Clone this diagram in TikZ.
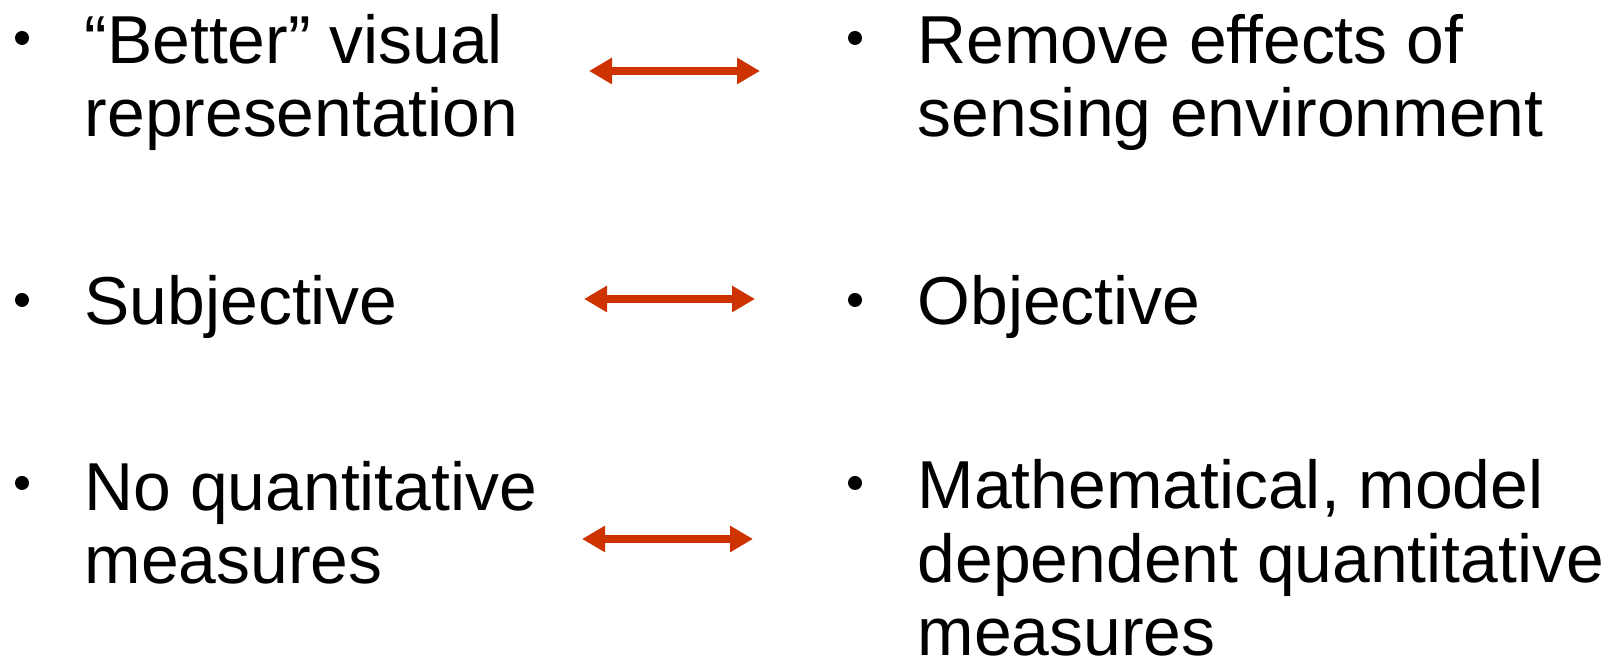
\documentclass[tikz,border=0pt]{standalone}
\usepackage{fontspec}
\setmainfont{Liberation Sans}
\definecolor{ArrowRed}{HTML}{CC3300}
\usepackage{tikz}
\usetikzlibrary{arrows.meta, positioning}

\begin{document}
\begin{tikzpicture}[>={Triangle[length=0.23cm, width=0.25cm]},
  item/.style={anchor=base west, inner sep=0pt, align=left,
    font=\fontsize{19.3}{21}\selectfont},
  dot/.style={circle, fill=black, inner sep=0pt, minimum size=0.14cm},
  link/.style={<->, line width=0.08cm, ArrowRed}]
  \useasboundingbox (0,0) rectangle (16.15,6.65);
  % left column (base = baseline of the last line)
  \node[dot] (bl1) at (0.22, 6.27) {};
  \node[item] (l1) at (0.84, 5.28) {“Better” visual\\representation};
  \node[dot] (bl2) at (0.22, 3.65) {};
  \node[item] (l2) at (0.84, 3.40) {Subjective};
  \node[dot] (bl3) at (0.22, 1.82) {};
  \node[item] (l3) at (0.84, 0.81) {No quantitative\\measures};
  % right column
  \node[dot] (br1) at (8.55, 6.27) {};
  \node[item] (r1) at (9.17, 5.28) {Remove effects of\\sensing environment};
  \node[dot] (br2) at (8.55, 3.65) {};
  \node[item] (r2) at (9.17, 3.40) {Objective};
  \node[dot] (br3) at (8.55, 1.82) {};
  \node[item] (r3) at (9.17, 0.09) {Mathematical, model\\dependent quantitative\\measures};
  % arrow ends
  \coordinate (a1w) at (5.89, 5.94);
  \coordinate (a1e) at (7.60, 5.94);
  \coordinate (a2w) at (5.84, 3.66);
  \coordinate (a2e) at (7.55, 3.66);
  \coordinate (a3w) at (5.82, 1.26);
  \coordinate (a3e) at (7.53, 1.26);
  \draw[link] (a1w) -- (a1e);
  \draw[link] (a2w) -- (a2e);
  \draw[link] (a3w) -- (a3e);
\end{tikzpicture}
\end{document}
